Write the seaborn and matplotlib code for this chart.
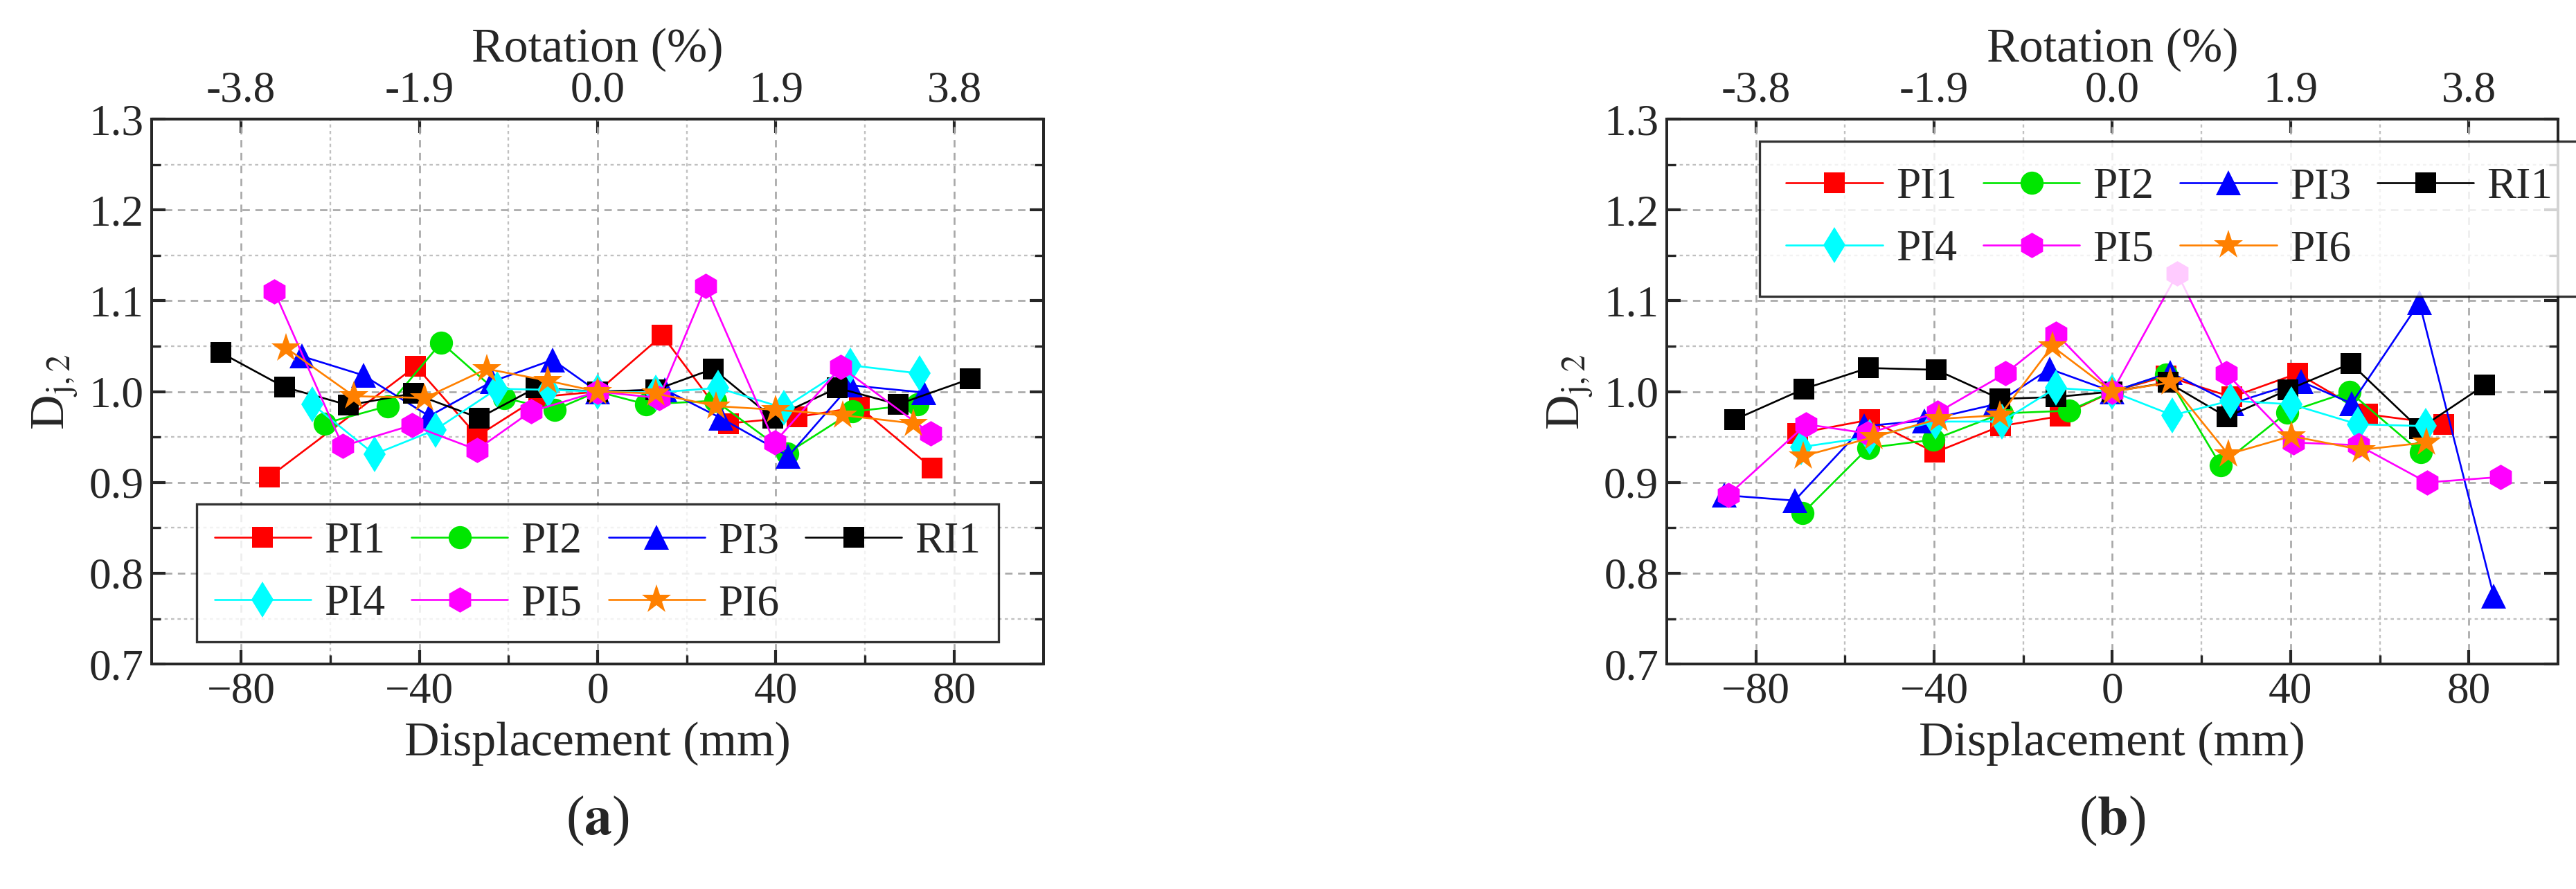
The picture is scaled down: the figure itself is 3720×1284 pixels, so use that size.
import numpy as np
import pandas as pd
import matplotlib
matplotlib.use("Agg")
import matplotlib.pyplot as plt
import seaborn as sns

# ── Data ──────────────────────────────────────────────────────────
SERIES = ["PI1", "PI2", "PI3", "RI1", "PI4", "PI5", "PI6"]

a_x = {
    "PI1": [-73.7, -40.8, -27, -13.2, 0, 14.5, 29.3, 44.7, 58.7, 75],
    "PI2": [-61.3, -47.1, -35.1, -21, -9.6, 0, 10.9, 26.4, 42.5, 57.2, 71.8],
    "PI3": [-66.4, -52.6, -37.8, -23.7, -10.1, 0, 15.1, 27.6, 42.8, 56.7, 73.2],
    "RI1": [-84.6, -70.3, -55.9, -41.4, -26.6, -13.9, 0, 13, 25.9, 39.3, 53.8, 67.4, 83.6],
    "PI4": [-64, -50.1, -36.4, -22.6, -11, 0, 13, 27, 41.8, 56.7, 72.2],
    "PI5": [-72.5, -57.2, -41.7, -27.1, -15, 0, 13.8, 24.3, 39.7, 54.6, 74.7],
    "PI6": [-69.9, -54.7, -38.8, -24.9, -11.2, 0, 13, 26.6, 40, 55, 70.9],
}
a_y = {
    "PI1": [0.906, 1.028, 0.951, 0.994, 1.0, 1.062, 0.965, 0.972, 0.983, 0.916],
    "PI2": [0.965, 0.984, 1.054, 0.993, 0.980, 1.0, 0.986, 0.990, 0.932, 0.978, 0.986],
    "PI3": [1.039, 1.018, 0.973, 1.011, 1.035, 1.0, 1.002, 0.971, 0.929, 1.007, 0.999],
    "RI1": [1.043, 1.005, 0.985, 0.998, 0.971, 1.004, 1.0, 1.002, 1.025, 0.971, 1.004, 0.986, 1.014],
    "PI4": [0.986, 0.931, 0.958, 1.003, 1.002, 1.0, 0.999, 1.004, 0.982, 1.029, 1.020],
    "PI5": [1.110, 0.940, 0.963, 0.936, 0.978, 1.0, 0.993, 1.116, 0.944, 1.027, 0.954],
    "PI6": [1.048, 0.995, 0.993, 1.025, 1.012, 1.0, 0.998, 0.984, 0.980, 0.974, 0.965],
}

b_x = {
    "PI1": [-70.6, -54.4, -39.8, -25.1, -11.7, 0, 12.1, 26.8, 41.6, 57.3, 74.3],
    "PI2": [-69.5, -54.8, -40.2, -24.8, -9.7, 0, 12.1, 24.3, 39.2, 53.2, 69.2],
    "PI3": [-87.1, -71.3, -55.7, -42.2, -26.3, -14.1, 0, 13, 26.8, 42.4, 53.7, 68.9, 85.6],
    "RI1": [-84.8, -69.2, -54.8, -39.5, -25.2, -12.7, 0, 12.5, 25.7, 39.4, 53.5, 68.9, 83.5],
    "PI4": [-69.8, -54.4, -39.7, -24.8, -12.7, 0, 13.5, 26.5, 40.2, 55.1, 70.3],
    "PI5": [-86.2, -68.7, -54.9, -39.2, -24, -12.7, 0, 14.6, 25.6, 40.6, 55.2, 70.6, 87.1],
    "PI6": [-69.4, -53.5, -38.9, -25.2, -13.5, 0, 13, 26, 40.2, 55.9, 70.5],
}
b_y = {
    "PI1": [0.954, 0.969, 0.933, 0.962, 0.973, 1.0, 1.017, 0.994, 1.020, 0.975, 0.964],
    "PI2": [0.866, 0.938, 0.947, 0.976, 0.979, 1.0, 1.019, 0.919, 0.977, 1.0, 0.933],
    "PI3": [0.886, 0.880, 0.962, 0.968, 0.986, 1.025, 1.0, 1.021, 0.987, 1.011, 0.987, 1.098, 0.775],
    "RI1": [0.969, 1.003, 1.026, 1.024, 0.992, 0.994, 1.0, 1.010, 0.972, 1.002, 1.031, 0.959, 1.007],
    "PI4": [0.939, 0.950, 0.967, 0.967, 1.004, 1.0, 0.974, 0.990, 0.986, 0.964, 0.962],
    "PI5": [0.886, 0.964, 0.954, 0.977, 1.020, 1.064, 1.0, 1.130, 1.020, 0.944, 0.941, 0.900, 0.906],
    "PI6": [0.929, 0.950, 0.970, 0.974, 1.050, 1.0, 1.010, 0.931, 0.951, 0.936, 0.944],
}

rot_ticks = [-80, -40, 0, 40, 80]
rot_labels = ["-3.8", "-1.9", "0.0", "1.9", "3.8"]

# ── Style ─────────────────────────────────────────────────────────
sns.set_theme(style="ticks")
plt.rcParams.update({
    "font.family": ["Liberation Serif", "DejaVu Serif"],
    "mathtext.fontset": "stix",
    "font.size": 19,
})

COLORS = {"PI1": "#ff0000", "PI2": "#00e600", "PI3": "#0000ff", "RI1": "#000000",
          "PI4": "#00ffff", "PI5": "#ff00ff", "PI6": "#ff8000"}
MARKERS = {"PI1": "s", "PI2": "o", "PI3": "^", "RI1": "s",
           "PI4": "d", "PI5": "h", "PI6": "*"}
MSIZE = {"PI1": 9, "PI2": 10, "PI3": 11, "RI1": 9, "PI4": 11, "PI5": 11, "PI6": 13}
# legend fills column-wise; this order gives rows PI1 PI2 PI3 RI1 / PI4 PI5 PI6
LEG_ORDER = ["PI1", "PI4", "PI2", "PI5", "PI3", "PI6", "RI1"]


def to_frame(xs, ys):
    rows = []
    for s in SERIES:
        for x, y in zip(xs[s], ys[s]):
            rows.append({"series": s, "disp": x, "dj": y})
    return pd.DataFrame(rows)


def draw_panel(ax, xs, ys, legend_kw, tag):
    df = to_frame(xs, ys)
    for s in SERIES:
        sub = df[df.series == s]
        sns.lineplot(data=sub, x="disp", y="dj", ax=ax, sort=False, color=COLORS[s],
                     marker=MARKERS[s], markersize=MSIZE[s], markeredgewidth=0,
                     linewidth=0.8, label=s, zorder=3)
    ax.set_xlim(-100, 100)
    ax.set_ylim(0.7, 1.3)
    ax.set_xticks([-80, -40, 0, 40, 80])
    ax.set_xticks([-60, -20, 20, 60], minor=True)
    ax.set_yticks(np.arange(0.7, 1.31, 0.1))
    ax.set_yticks(np.arange(0.75, 1.3, 0.1), minor=True)
    ax.yaxis.set_major_formatter(matplotlib.ticker.FormatStrFormatter("%.1f"))
    ax.grid(True, which="major", color="#a8a8a8", linestyle=(0, (4, 3)), linewidth=0.8)
    ax.grid(True, which="minor", color="#c0c0c0", linestyle=(0, (2, 2)), linewidth=0.7)
    ax.tick_params(which="both", direction="in", right=True, labelsize=19)
    for sp in ax.spines.values():
        sp.set_linewidth(1.2)
    ax.set_xlabel("Displacement (mm)", fontsize=21)
    ax.set_ylabel(r"D$_{\mathrm{j,2}}$", fontsize=21)
    top = ax.secondary_xaxis("top")
    top.set_xticks(rot_ticks)
    top.set_xticklabels(rot_labels)
    top.tick_params(direction="in", labelsize=19)
    top.set_xlabel("Rotation (%)", fontsize=21)
    handles, labels = ax.get_legend_handles_labels()
    hmap = dict(zip(labels, handles))
    leg = ax.legend([hmap[s] for s in LEG_ORDER], LEG_ORDER, ncol=4, fontsize=19,
                    frameon=True, fancybox=False, edgecolor="black",
                    handlelength=2.2, columnspacing=0.6, handletextpad=0.3, **legend_kw)
    leg.get_frame().set_linewidth(1.0)
    ax.text(0.5, -0.24, tag, transform=ax.transAxes, ha="center", va="top", fontsize=24)


fig = plt.figure(figsize=(15.5, 5.35), dpi=240)
ax1 = fig.add_axes([0.059, 0.253, 0.346, 0.613])
ax2 = fig.add_axes([0.647, 0.253, 0.346, 0.613])
draw_panel(ax1, a_x, a_y, dict(loc="lower center", bbox_to_anchor=(0.5, 0.0)), r"($\mathbf{a}$)")
draw_panel(ax2, b_x, b_y, dict(loc="upper left", bbox_to_anchor=(0.08, 1.0), borderpad=0.6),
           r"($\mathbf{b}$)")

fig.savefig("out.png", dpi=240, facecolor="white")
plt.close(fig)
